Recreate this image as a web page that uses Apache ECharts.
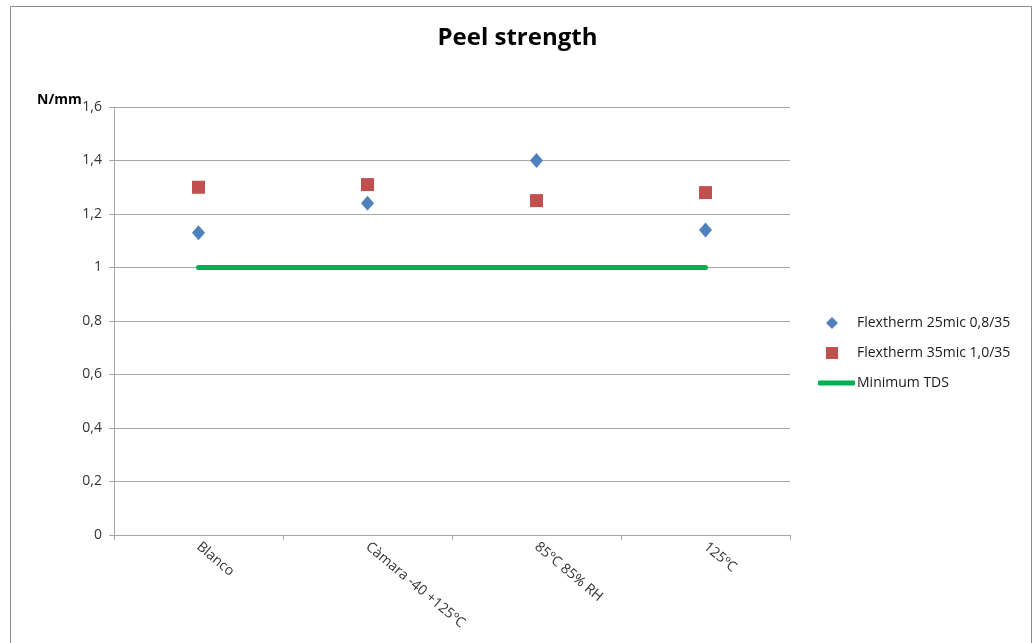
<!DOCTYPE html>
<html><head><meta charset="utf-8">
<script src="https://cdn.jsdelivr.net/npm/echarts@6/dist/echarts.min.js"></script>
<style>html,body{margin:0;padding:0;background:#fff}#c{width:1035px;height:643px}</style>
</head><body><div id="c"></div>
<script>
const categories = ['Blanco', 'Càmara -40 +125ºC', '85ºC 85% RH', '125ºC'];
const flex25 = [1.13, 1.24, 1.40, 1.14];
const flex35 = [1.30, 1.31, 1.25, 1.28];
const minimumTDS = [1, 1, 1, 1];
const seriesNames = ['Flextherm 25mic 0,8/35', 'Flextherm 35mic 1,0/35', 'Minimum TDS'];
const yTicks = {min: 0, max: 1.6, interval: 0.2};
const yUnit = 'N/mm';

const font = '"Open Sans", "Liberation Sans", sans-serif';
const legendText = {fontFamily: font, fontSize: 14, color: '#1a1a1a'};
const chart = echarts.init(document.getElementById('c'));
chart.setOption({
  animation: false,
  textStyle: {fontFamily: font},
  graphic: [
    {type: 'rect', shape: {x: 10.5, y: 6.5, width: 1021, height: 700}, style: {fill: 'none', stroke: '#8c8c8c', lineWidth: 1}, silent: true},
    {type: 'text', left: 37, top: 93, style: {text: yUnit, font: 'bold 14px ' + font, fill: '#000'}, silent: true}
  ],
  title: {text: 'Peel strength', left: 'center', top: 21, textStyle: {fontFamily: font, fontSize: 24, fontWeight: 'bold', color: '#000'}},
  grid: {left: 114, right: 245, top: 107, bottom: 108},
  legend: [
    {orient: 'vertical', left: 826, top: 316, padding: 0, itemGap: 16, itemWidth: 12, itemHeight: 12,
     textStyle: Object.assign({}, legendText, {padding: [0, 0, 0, 14]}),
     data: [{name: seriesNames[0], icon: 'diamond'}, {name: seriesNames[1], icon: 'rect'}]},
    {orient: 'vertical', left: 818, top: 376, padding: 0, itemWidth: 37, itemHeight: 5,
     textStyle: Object.assign({}, legendText, {padding: [0, 0, 0, -3]}),
     data: [{name: seriesNames[2], icon: 'roundRect'}]}
  ],
  xAxis: {
    type: 'category', data: categories, boundaryGap: true,
    axisLine: {lineStyle: {color: '#a6a6a6', width: 1}},
    axisTick: {show: true, length: 5, lineStyle: {color: '#a6a6a6'}},
    axisLabel: {rotate: -40, fontFamily: font, fontSize: 14, color: '#333', margin: 10, interval: 0}
  },
  yAxis: {
    type: 'value', min: yTicks.min, max: yTicks.max, interval: yTicks.interval,
    axisLine: {show: true, lineStyle: {color: '#a6a6a6'}},
    axisTick: {show: true, length: 5, lineStyle: {color: '#a6a6a6'}},
    splitLine: {lineStyle: {color: '#a6a6a6'}},
    axisLabel: {fontFamily: font, fontSize: 14, color: '#333', margin: 12,
      formatter: v => (Math.round(v * 10) / 10).toString().replace('.', ',')}
  },
  series: [
    {name: seriesNames[0], type: 'scatter', data: flex25, symbol: 'diamond', symbolSize: [13, 15], itemStyle: {color: '#4F81BD', opacity: 1}},
    {name: seriesNames[1], type: 'scatter', data: flex35, symbol: 'rect', symbolSize: 13, itemStyle: {color: '#C0504D', opacity: 1}},
    {name: seriesNames[2], type: 'line', data: minimumTDS, symbol: 'none', lineStyle: {color: '#00B050', width: 5, cap: 'round'}, itemStyle: {color: '#00B050'}}
  ]
});
</script></body></html>
